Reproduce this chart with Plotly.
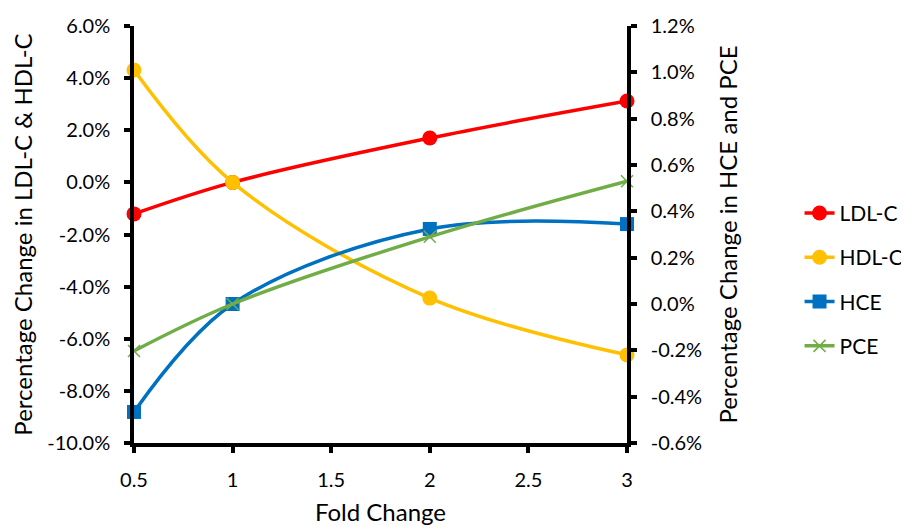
import plotly.graph_objects as go

fold = [0.5, 1, 2, 3]
ldl_c = [-1.21, 0.0, 1.70, 3.12]
hdl_c = [4.31, 0.0, -4.44, -6.62]
hce = [-0.466, 0.0, 0.324, 0.345]
pce = [-0.203, 0.0, 0.29, 0.53]

left_ticks = [-10, -8, -6, -4, -2, 0, 2, 4, 6]
left_labels = ["-10.0%", "-8.0%", "-6.0%", "-4.0%", "-2.0%", "0.0%", "2.0%", "4.0%", "6.0%"]
right_ticks = [-0.6, -0.4, -0.2, 0.0, 0.2, 0.4, 0.6, 0.8, 1.0, 1.2]
right_labels = ["-0.6%", "-0.4%", "-0.2%", "0.0%", "0.2%", "0.4%", "0.6%", "0.8%", "1.0%", "1.2%"]

FONT = "Lato"
fig = go.Figure()

def add(name, y, color, symbol, size, axis, group):
    fig.add_trace(go.Scatter(
        x=fold, y=y, name=name, yaxis=axis, mode="lines+markers",
        line=dict(color=color, width=3.5, shape="spline", smoothing=1),
        marker=dict(color=color, symbol=symbol, size=size,
                    line=dict(color=color, width=1.5 if symbol == "x-thin" else 0)),
        cliponaxis=False, legendgroup=group))

add("LDL-C", ldl_c, "#FF0000", "circle", 15, "y", "a")
add("HDL-C", hdl_c, "#FFC000", "circle", 15, "y", "b")
add("HCE", hce, "#0070C0", "square", 14, "y2", "c")
add("PCE", pce, "#70AD47", "x-thin", 12, "y2", "d")

axis_common = dict(showline=True, linecolor="black", linewidth=3.5, ticks="outside",
                   tickwidth=3.5, tickcolor="black", ticklen=6, showgrid=False, zeroline=False,
                   automargin=False,
                   tickfont=dict(family=FONT, size=20, color="black"))

fig.update_layout(
    width=901, height=518,
    margin=dict(l=126, r=282, t=18, b=83, autoexpand=False),
    paper_bgcolor="white", plot_bgcolor="white",
    font=dict(family=FONT, size=20, color="black"),
    xaxis=dict(range=[0.5, 3], dtick=0.5, tick0=0.5, ticklabelstandoff=10,
               title=dict(text="Fold Change", font=dict(family=FONT, size=24), standoff=17),
               **axis_common),
    yaxis=dict(range=[-10, 6], tickvals=left_ticks, ticktext=left_labels, ticklabelstandoff=10,
               title=dict(text="Percentage Change in LDL-C & HDL-C", font=dict(family=FONT, size=24), standoff=10),
               **axis_common),
    yaxis2=dict(range=[-0.6, 1.2], tickvals=right_ticks, ticktext=right_labels, ticklabelstandoff=10,
                overlaying="y", side="right",
                title=dict(text="Percentage Change in HCE and PCE", font=dict(family=FONT, size=24), standoff=20),
                **axis_common),
    legend=dict(x=1.35, xanchor="left", y=0.60, yanchor="top",
                font=dict(family=FONT, size=21), tracegroupgap=14,
                bgcolor="rgba(0,0,0,0)"),
)

fig.write_html("out.html")
